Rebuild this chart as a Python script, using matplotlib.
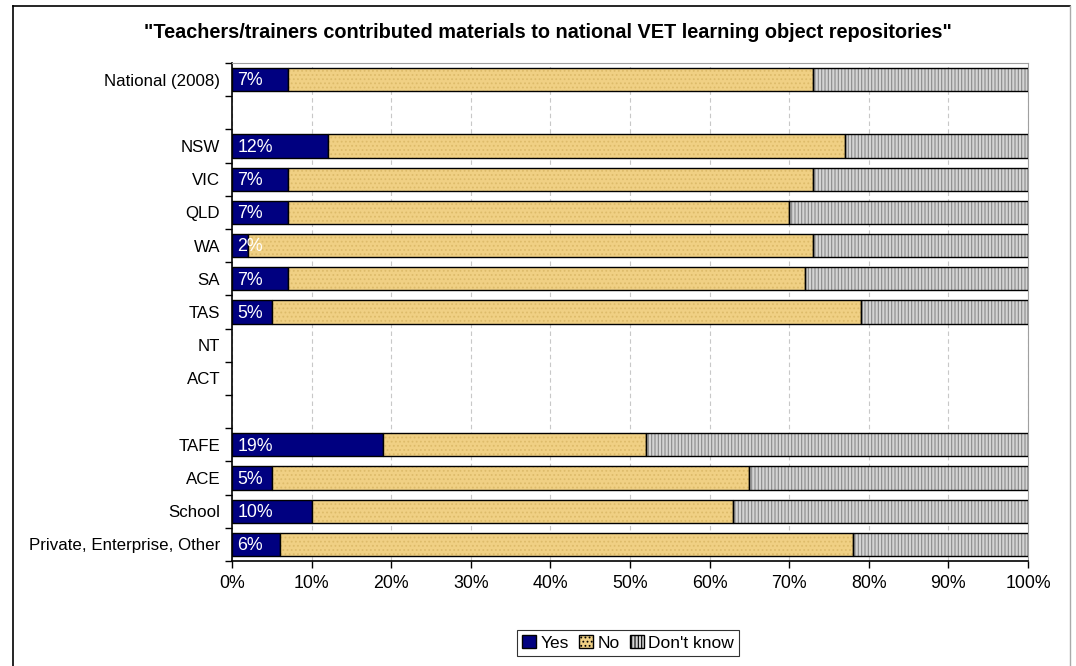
import matplotlib
matplotlib.use("Agg")
import matplotlib.pyplot as plt
from matplotlib.patches import Patch
from matplotlib.lines import Line2D
import numpy as np

plt.rcParams['font.family'] = ['Liberation Sans', 'DejaVu Sans']
plt.rcParams['hatch.linewidth'] = 0.8

categories = ["National (2008)", "", "NSW", "VIC", "QLD", "WA", "SA", "TAS", "NT", "ACT",
              "", "TAFE", "ACE", "School", "Private, Enterprise, Other"]
yes = [7, None, 12, 7, 7, 2, 7, 5, None, None, None, 19, 5, 10, 6]
no = [66, None, 65, 66, 63, 71, 65, 74, None, None, None, 33, 60, 53, 72]
dont_know = [27, None, 23, 27, 30, 27, 28, 21, None, None, None, 48, 35, 37, 22]
tick_labels = ["0%", "10%", "20%", "30%", "40%", "50%", "60%", "70%", "80%", "90%", "100%"]
title = "\"Teachers/trainers contributed materials to national VET learning object repositories\""

fig = plt.figure(figsize=(10.76, 6.66), dpi=100)
ax = fig.add_axes([232/1076, 1-561/666, (1028-232)/1076, (561-63)/666])

yes_c = "#000080"
no_c = "#F0D084"
dk_c = "#D4D4D4"

idx = [i for i, v in enumerate(yes) if v is not None]
y_yes = [yes[i] for i in idx]
y_no = [no[i] for i in idx]
y_dk = [dont_know[i] for i in idx]
h = 0.7

ax.barh(idx, y_yes, height=h, color=yes_c, edgecolor="black", linewidth=1.0, zorder=3)
plt.rcParams['hatch.color'] = "#D9B25E"
ax.barh(idx, y_no, left=y_yes, height=h, color=no_c, edgecolor="#DDBB6A", hatch="....",
        linewidth=0, zorder=3)
ax.barh(idx, y_no, left=y_yes, height=h, color="none", edgecolor="black", linewidth=1.0, zorder=4)
left2 = [a + b for a, b in zip(y_yes, y_no)]
ax.barh(idx, y_dk, left=left2, height=h, color=dk_c, edgecolor="#8A8A8A", hatch="|||||",
        linewidth=0, zorder=3)
ax.barh(idx, y_dk, left=left2, height=h, color="none", edgecolor="black", linewidth=1.0, zorder=4)

for i, v in zip(idx, y_yes):
    ax.annotate(f"{v}%", (0, i), xytext=(4, -1), textcoords="offset points",
                ha="left", va="center", color="white", fontsize=12.8, zorder=5)

ax.set_xlim(0, 100)
ax.set_ylim(14.5, -0.5)
ax.set_xticks(np.arange(0, 101, 10))
ax.set_xticklabels(tick_labels, fontsize=12.8)
ax.set_yticks(range(len(categories)))
ax.set_yticklabels(categories, fontsize=12.2)
ax.tick_params(axis="y", which="major", length=0, pad=8.5)
ax.set_yticks(np.arange(-0.5, 15, 1), minor=True)
ax.tick_params(axis="y", which="minor", length=5, direction="out", width=1)
ax.tick_params(axis="x", length=5, direction="out", width=1, pad=5)
ax.grid(axis="x", color="#C8C8C8", linestyle=(0, (4, 3)), linewidth=0.8, zorder=0)

for s in ["top", "right"]:
    ax.spines[s].set_color("#A0A0A0")
for s in ["left", "bottom"]:
    ax.spines[s].set_color("black")
    ax.spines[s].set_linewidth(1.2)

fig.text(548/1076, 1-33/666, title, ha="center", va="center", fontsize=14.3, fontweight="bold")

handles = [Patch(facecolor=yes_c, edgecolor="black"),
           Patch(facecolor=no_c, edgecolor="black", hatch="...."),
           Patch(facecolor=dk_c, edgecolor="black", hatch="|||||")]
leg = fig.legend(handles, ["Yes", "No", "Don't know"], loc="center", bbox_to_anchor=(628/1076, 1-643/666),
                 ncol=3, frameon=True, fancybox=False, fontsize=12.5, handlelength=0.8, handleheight=0.8,
                 handletextpad=0.25, columnspacing=0.6, borderpad=0.3, edgecolor="black")
leg.get_frame().set_linewidth(0.8)

fig.add_artist(Line2D([13/1076, 13/1076], [0, 1-6/666], color="black", linewidth=1.2))
fig.add_artist(Line2D([13/1076, 1070/1076], [1-6/666, 1-6/666], color="black", linewidth=1.2))
fig.add_artist(Line2D([1070/1076, 1070/1076], [0, 1-6/666], color="#AAAAAA", linewidth=1.0))

fig.savefig("out.png", dpi=100)
